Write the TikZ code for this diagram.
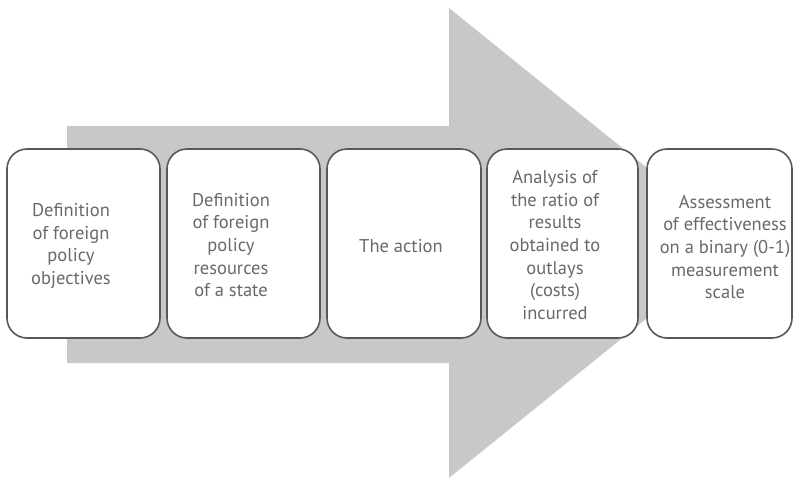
\documentclass[tikz,border=0pt]{standalone}
\usepackage{fontspec}
\setmainfont{PT Sans}
\definecolor{arrowgray}{RGB}{200,200,201}
\definecolor{edgegray}{RGB}{88,88,88}
\definecolor{textgray}{RGB}{105,105,105}
\begin{document}
\begin{tikzpicture}[x=1pt,y=-1pt,
  stage/.style={draw=edgegray, line width=1.6pt, fill=white, rounded corners=20pt},
  label/.style={align=center, text=textgray, font=\fontsize{18.5}{22.6}\selectfont, inner sep=0pt}]
  \useasboundingbox (0,0) rectangle (793,479);
  % large process arrow in the background
  \fill[arrowgray] (67,126) -- (449,126) -- (449,8) -- (740,243) -- (449,478)
    -- (449,363) -- (67,363) -- cycle;
  % stage boxes
  \draw[stage] (7,149) rectangle (160,338);
  \draw[stage] (167,149) rectangle (320,338);
  \draw[stage] (327,149) rectangle (481,338);
  \draw[stage] (487,149) rectangle (638,338);
  \draw[stage] (647,149) rectangle (792,338);
  % stage texts
  \node[label] (s1) at (71,246) {Definition\\of foreign\\policy\\objectives};
  \node[label] (s2) at (231,245) {Definition\\of foreign\\policy\\resources\\of a state};
  \node[label] (s3) at (401,246) {The action};
  \node[label] (s4) at (555,245) {Analysis of\\the ratio of\\results\\obtained to\\outlays\\(costs)\\incurred};
  \node[label] (s5) at (725,247) {Assessment\\of effectiveness\\on a binary (0-1)\\measurement\\scale};
\end{tikzpicture}
\end{document}
